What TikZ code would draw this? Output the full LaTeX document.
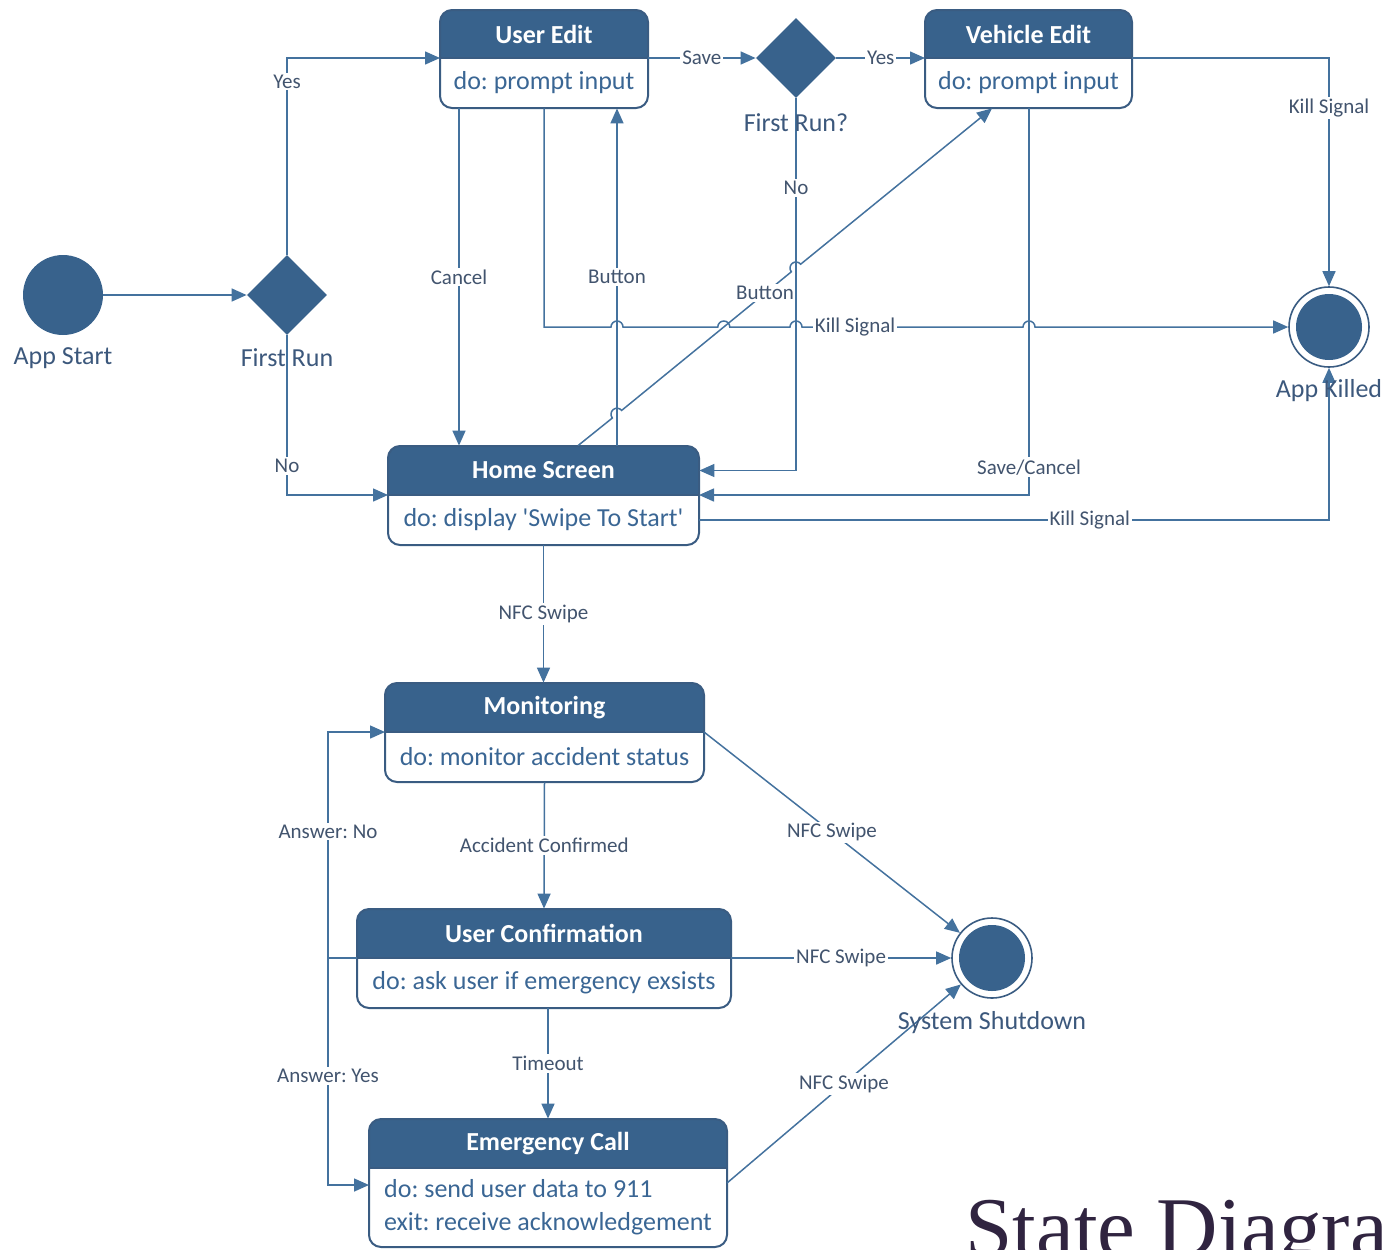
\documentclass[tikz,border=0pt]{standalone}
\usepackage{fontspec}
\setmainfont{Carlito}
\newfontfamily\serifhead{Liberation Serif}
\usetikzlibrary{arrows.meta,shapes.geometric,fit}
\definecolor{HeadClr}{RGB}{56,98,140}
\definecolor{BoxClr}{RGB}{58,92,130}
\definecolor{LineClr}{RGB}{68,114,158}
\definecolor{BodyClr}{RGB}{58,102,148}
\definecolor{LblClr}{RGB}{66,84,110}
\definecolor{NameClr}{RGB}{60,88,124}
\definecolor{TitleClr}{RGB}{48,36,64}
\frenchspacing

\tikzset{
  flow/.style={draw=LineClr, line width=0.75pt, -{Triangle[length=7.5pt,width=6.5pt]}},
  lbl/.style={font=\fontsize{10.5}{12}\selectfont, text=LblClr, fill=white, inner sep=1pt},
  statename/.style={font=\fontsize{13}{15}\selectfont, text=NameClr, inner sep=0pt},
  statetitle/.style={font=\bfseries\fontsize{13}{15}\selectfont, text=white},
  statebody/.style={font=\fontsize{13}{16.5}\selectfont, text=BodyClr, align=left},
  startstate/.style={circle, fill=HeadClr, minimum size=40pt, inner sep=0pt},
  decision/.style={diamond, fill=HeadClr, minimum size=40pt, inner sep=0pt},
  endstate/.style={circle, draw=BoxClr, line width=0.8pt, fill=white, minimum size=40pt, inner sep=0pt,
    path picture={\fill[HeadClr] (path picture bounding box.center) circle (16.5pt);}},
}

% name, left, top, right, bottom, divider, title, body
\newcommand\StateBox[8]{%
  \fill[HeadClr, rounded corners=6pt] (#2,#6) -- (#2,#3) -- (#4,#3) -- (#4,#6);
  \draw[BoxClr, line width=1pt, rounded corners=6pt] (#2,#3) rectangle (#4,#5);
  \draw[BoxClr, line width=0.8pt] (#2,#6) -- (#4,#6);
  \node[fit={(#2,#3) (#4,#5)}, inner sep=0pt] (#1) {};
  \coordinate (#1-w) at (#2,#6);
  \coordinate (#1-e) at (#4,#6);
  \node[statetitle] (#1-title) at ({(#2+#4)/2},{(#3+#6)/2}) {#7};
  \node[statebody] (#1-body) at ({(#2+#4)/2},{(#6+#5)/2}) {#8};
}

\begin{document}
\begin{tikzpicture}[x=0.5pt, y=-0.5pt]
\useasboundingbox (0,0) rectangle (1387,1249);
\clip (0,0) rectangle (1387,1249);

% states
\StateBox{ue}{440}{10}{648}{108}{58}{User Edit}{do: prompt input}
\StateBox{ve}{925}{10}{1132}{108}{58}{Vehicle Edit}{do: prompt input}
\StateBox{hs}{388}{446}{699}{545}{495}{Home Screen}{do: display \textquotesingle Swipe To Start\textquotesingle}
\StateBox{mon}{385}{683}{704}{782}{732}{Monitoring}{do: monitor accident status}
\StateBox{uc}{357}{909}{731}{1008}{958}{User Confirmation}{do: ask user if emergency exsists}
\StateBox{ec}{369}{1119}{727}{1247}{1168}{Emergency Call}{do: send user data to 911\\exit: receive acknowledgement}

\node[startstate] (start) at (63,295) {};
\node[decision] (fr) at (287,295) {};
\node[decision] (fr2) at (796,58) {};
\node[endstate] (killed) at (1329,327) {};
\node[endstate] (shut) at (992,958) {};
\coordinate (ans) at (328,958);

% upper part
\draw[flow] (start) -- (fr);
\draw[flow] (fr.north) |- node[lbl,pos=0.44]{Yes} (ue-w);
\draw[flow] (fr.south) |- node[lbl,pos=0.41]{No} (hs-w);
\draw[flow] (ue-e) -- node[lbl]{Save} (fr2);
\draw[flow] (fr2) -- node[lbl]{Yes} (ve-w);
\draw[flow] (ue.south -| 459,0) -- node[lbl]{Cancel} (hs.north -| 459,0);
\draw[flow] (hs.north -| 617,0) -- node[lbl]{Button} (ue.south -| 617,0);
\draw[flow] (hs.north -| 578,0) -- (612.35,417.99)
  arc[start angle=140.8, end angle=320.8, radius=6] -- node[lbl,pos=0.845]{Button} (791.35,271.79)
  arc[start angle=140.8, end angle=320.8, radius=6] -- (ve.south -| 992,0);
\draw[flow] (ue.south -| 544,0) |- (611,327)
  arc[start angle=180, end angle=360, radius=6] -- (717.8,327)
  arc[start angle=180, end angle=360, radius=6] -- (790,327)
  arc[start angle=180, end angle=360, radius=6] -- node[lbl,pos=0.24]{Kill Signal} (1023,327)
  arc[start angle=180, end angle=360, radius=6] -- (killed.west);
\draw[flow] (fr2.south) |- node[lbl,pos=0.12]{No} (hs.east |- hs-title);
\draw[flow] (ve.south -| 1029,0) |- node[lbl,pos=0.464]{Save/Cancel} (hs-e);
\draw[flow] (ve-e) -| node[lbl,pos=0.61]{Kill Signal} (killed.north);
\draw[flow] (hs.east |- hs-body) -| node[lbl,pos=0.31]{Kill Signal} (killed.south);

% lower part
\draw[flow] (hs.south) -- node[lbl]{NFC Swipe} (hs.south |- mon.north);
\draw[flow] (mon.south) -- node[lbl]{Accident Confirmed} (uc.north);
\draw[flow] (uc.south -| ec.north) -- node[lbl]{Timeout} (ec.north);
\draw[flow] (mon-e) -- node[lbl]{NFC Swipe} (shut);
\draw[flow] (uc-e) -- node[lbl]{NFC Swipe} (shut);
\draw[flow] ([yshift=-7.5pt]ec-e) -- node[lbl]{NFC Swipe} (shut);
\draw[flow] (uc-w) -- (ans) |- node[lbl,pos=0.28]{Answer: No} (mon-w);
\draw[flow] (ans) |- node[lbl,pos=0.26]{Answer: Yes} ([yshift=-8.5pt]ec-w);

% names
\node[statename] (start-name) at (63,358) {App Start};
\node[statename] (fr-name) at (287,358) {First Run};
\node[statename] (fr2-name) at (796,123) {First Run?};
\node[statename] (killed-name) at (1329,391) {App Killed};
\node[statename] (shut-name) at (992,1023) {System Shutdown};

\node[anchor=base west, inner sep=0pt, text=TitleClr, font=\serifhead\fontsize{42.5}{50}\selectfont] (title) at (965,1256) {State Diagram};
\end{tikzpicture}
\end{document}
